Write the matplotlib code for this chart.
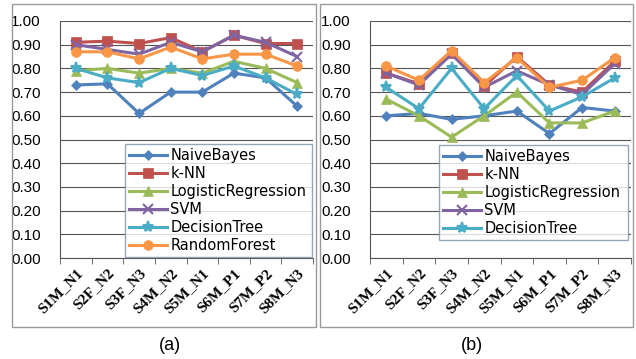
import numpy as np
import matplotlib.pyplot as plt
from matplotlib.patches import Rectangle

# 카테고리 (피험자)
subjects = ["S1M_N1", "S2F_N2", "S3F_N3", "S4M_N2", "S5M_N1", "S6M_P1", "S7M_P2", "S8M_N3"]
y_ticks = [0.0, 0.1, 0.2, 0.3, 0.4, 0.5, 0.6, 0.7, 0.8, 0.9, 1.0]

# (a) 정확도
a_naive = [0.73, 0.735, 0.61, 0.70, 0.70, 0.78, 0.76, 0.64]
a_knn = [0.91, 0.915, 0.905, 0.93, 0.87, 0.94, 0.905, 0.905]
a_logreg = [0.79, 0.80, 0.78, 0.80, 0.78, 0.83, 0.80, 0.74]
a_svm = [0.90, 0.88, 0.86, 0.91, 0.87, 0.94, 0.91, 0.85]
a_dtree = [0.80, 0.76, 0.74, 0.80, 0.77, 0.81, 0.76, 0.69]
a_rforest = [0.87, 0.87, 0.84, 0.89, 0.84, 0.86, 0.86, 0.81]

# (b) 정확도
b_naive = [0.60, 0.61, 0.585, 0.60, 0.62, 0.525, 0.635, 0.62]
b_knn = [0.78, 0.735, 0.865, 0.725, 0.85, 0.73, 0.70, 0.83]
b_logreg = [0.67, 0.60, 0.51, 0.60, 0.70, 0.57, 0.57, 0.62]
b_svm = [0.78, 0.73, 0.86, 0.72, 0.79, 0.73, 0.69, 0.82]
b_dtree = [0.72, 0.63, 0.80, 0.63, 0.77, 0.62, 0.68, 0.76]
b_rforest = [0.81, 0.75, 0.875, 0.74, 0.845, 0.72, 0.75, 0.845]

names = ["NaiveBayes", "k-NN", "LogisticRegression", "SVM", "DecisionTree", "RandomForest"]
colors = ["#4F81BD", "#C0504D", "#9BBB59", "#8064A2", "#4BACC6", "#F79646"]
markers = ["D", "s", "^", "x", "*", "o"]
msizes = [5, 7, 7, 7, 8, 7]

W, H = 636, 359
fig = plt.figure(figsize=(W / 100, H / 100), dpi=100)


def px_axes(left, right, top, bottom):
    return fig.add_axes([left / W, (H - bottom) / H, (right - left) / W, (bottom - top) / H])


def draw_panel(ax, series, legend_n, leg_box, caption, cap_x):
    x = np.arange(len(subjects))
    handles = []
    for i, vals in enumerate(series):
        h, = ax.plot(x, vals, color=colors[i], lw=2.2, marker=markers[i],
                     markersize=msizes[i], markeredgewidth=1.5 if markers[i] in "x*" else 0.5,
                     markeredgecolor=colors[i], label=names[i])
        handles.append(h)
    ax.set_xlim(-0.5, len(subjects) - 0.5)
    ax.set_ylim(0, 1.0)
    ax.set_yticks(y_ticks)
    ax.set_yticklabels([f"{v:.2f}" for v in y_ticks], fontsize=11, family="Liberation Sans")
    ax.yaxis.grid(True, color="#555555", lw=0.8)
    ax.set_axisbelow(True)
    ax.set_xticks(x)
    ax.set_xticklabels(subjects, rotation=45, ha="right", rotation_mode="anchor",
                       fontsize=11, family="Liberation Serif", fontweight="bold")
    ax.set_xticks(np.arange(-0.5, len(subjects)), minor=True)
    ax.tick_params(axis="x", which="major", length=0, pad=6)
    ax.tick_params(axis="x", which="minor", length=4, color="#555555")
    ax.tick_params(axis="y", length=0, pad=14)
    for s in ["top", "right"]:
        ax.spines[s].set_visible(False)
    ax.spines["left"].set_color("#555555")
    ax.spines["bottom"].set_color("#555555")

    l, r, t, b = leg_box
    leg = ax.legend(handles=handles[:legend_n], loc="upper left",
                    bbox_to_anchor=(l / W, (H - b) / H, (r - l) / W, (b - t) / H),
                    bbox_transform=fig.transFigure, mode="expand",
                    fontsize=10.5, frameon=True, fancybox=False, borderpad=0.3,
                    handlelength=2.6, handletextpad=0.2, labelspacing=0.2,
                    borderaxespad=0)
    leg.get_frame().set_edgecolor("#7f8fa6")
    leg.get_frame().set_linewidth(1.0)
    fig.text(cap_x / W, (H - 345) / H, caption, ha="center", va="center", fontsize=13,
             family="Liberation Sans")


ax1 = px_axes(60, 313, 21, 258)
draw_panel(ax1, [a_naive, a_knn, a_logreg, a_svm, a_dtree, a_rforest], 6,
           (125, 312, 144, 253), "(a)", 170)

ax2 = px_axes(370, 631, 21, 258)
draw_panel(ax2, [b_naive, b_knn, b_logreg, b_svm, b_dtree, b_rforest], 5,
           (439, 628, 145, 252), "(b)", 472)

# 바깥 테두리
for (l, r) in [(12, 316), (320, 633)]:
    fig.patches.append(Rectangle((l / W, (H - 327) / H), (r - l) / W, 323 / H,
                                 transform=fig.transFigure, fill=False,
                                 edgecolor="#999999", lw=1.0))

fig.savefig("out.png", dpi=100)
